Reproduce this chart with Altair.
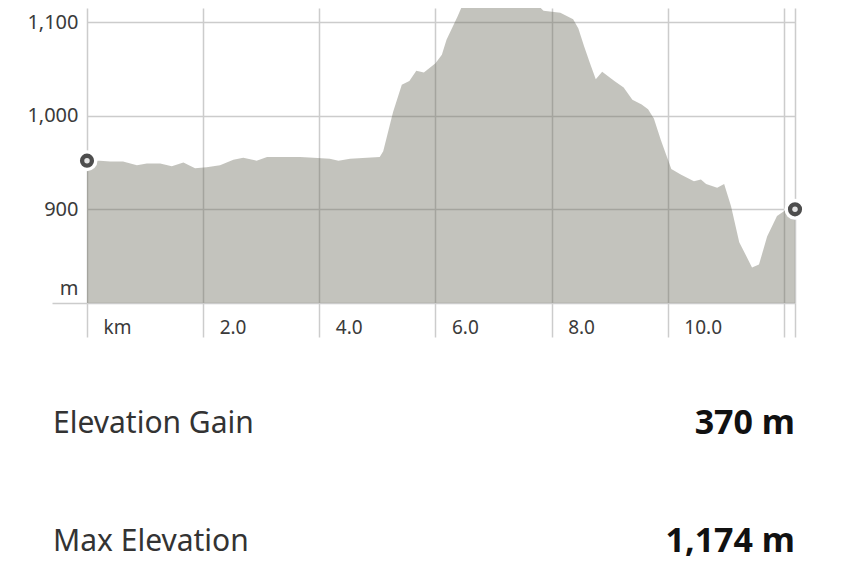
import altair as alt
import pandas as pd

# ---- data ----
km = [0.00, 0.22, 0.40, 0.62, 0.86, 1.03, 1.26, 1.46, 1.66, 1.86, 2.06, 2.29, 2.52, 2.69,
      2.92, 3.10, 3.38, 3.67, 3.90, 4.18, 4.33, 4.53, 4.82, 5.04, 5.10, 5.27, 5.42, 5.55,
      5.67, 5.80, 6.00, 6.11, 6.19, 6.38, 6.50, 6.65, 6.82, 7.00, 7.18, 7.40, 7.62, 7.86,
      8.15, 8.37, 8.46, 8.56, 8.66, 8.76, 8.87, 9.08, 9.24, 9.39, 9.55, 9.66, 9.76, 9.88,
      10.06, 10.23, 10.45, 10.57, 10.66, 10.85, 10.97, 11.09, 11.23, 11.45, 11.57, 11.71,
      11.88, 12.05, 12.19]
elevation = [952, 952, 951, 951, 947, 949, 949, 946, 950, 944, 945, 947, 953, 955,
             952, 956, 956, 956, 955, 954, 952, 954, 955, 956, 962, 1004, 1033, 1037,
             1048, 1046, 1056, 1065, 1081, 1106, 1123, 1140, 1160, 1174, 1166, 1146, 1127, 1112,
             1110, 1103, 1093, 1074, 1056, 1039, 1047, 1037, 1030, 1017, 1012, 1007, 997, 974,
             943, 937, 930, 932, 927, 923, 927, 903, 865, 838, 841, 871,
             893, 900, 900]

x_ticks = [0, 2, 4, 6, 8, 10, 12, 12.19]
y_ticks = [800, 900, 1000, 1100]

stat_labels = ["Elevation Gain", "Max Elevation"]
stat_values = ["370 m", "1,174 m"]

FONT = "Noto Sans"
profile = pd.DataFrame({"km": km, "elev": elevation})
ends = profile.iloc[[0, -1]]
stats = pd.DataFrame({"label": stat_labels, "value": stat_values})

xscale = alt.Scale(domain=[0, 12.19], nice=False, zero=False)
yscale = alt.Scale(domain=[800, 1115], nice=False, zero=False)

xaxis = alt.Axis(
    values=x_ticks, title=None, domain=False, grid=True, gridColor="#cccccc", gridWidth=1.5,
    ticks=True, tickSize=34, tickColor="#cccccc", tickWidth=1.5,
    labelExpr="datum.value == 0 ? 'km' : (datum.value >= 12 ? '' : format(datum.value, '.1f'))",
    labelAlign="left", labelBaseline="top", labelOffset=16, labelPadding=-19,
    labelFlush=False, labelOverlap=False, labelBound=False,
    labelFont=FONT, labelFontSize=19, labelColor="#3a3a3a",
)
yaxis = alt.Axis(
    values=y_ticks, title=None, domain=False, grid=True, gridColor="#cccccc", gridWidth=1.5,
    ticks=True, tickSize=35, tickColor="#cccccc", tickWidth=1.5,
    tickOpacity={"condition": {"test": "datum.value == 800", "value": 1}, "value": 0},
    labelExpr="datum.value == 800 ? 'm' : format(datum.value, ',')",
    labelOffset={"condition": {"test": "datum.value == 800", "value": -15}, "value": 0},
    labelPadding=-26, labelFont=FONT, labelFontSize=20, labelColor="#3a3a3a",
)

area = alt.Chart(profile).mark_area(color="#68685b", opacity=0.4, clip=True).encode(
    x=alt.X("km:Q", scale=xscale, axis=xaxis),
    y=alt.Y("elev:Q", scale=yscale, axis=yaxis),
)
enc = dict(x=alt.X("km:Q", scale=xscale), y=alt.Y("elev:Q", scale=yscale))
halo = alt.Chart(ends).mark_point(shape="circle", filled=True, fill="white", size=440, opacity=1).encode(**enc)
ring = alt.Chart(ends).mark_point(shape="circle", filled=True, fill="#4d4d4d", size=200, opacity=1).encode(**enc)
hole = alt.Chart(ends).mark_point(shape="circle", filled=True, fill="#e4e4e4", size=30, opacity=1).encode(**enc)

top = alt.layer(area, halo, ring, hole).properties(width=708, height=295)

ypt = alt.Y("label:N", scale=alt.Scale(domain=stat_labels, type="point", padding=0), axis=None)
left_txt = alt.Chart(stats).mark_text(
    align="left", baseline="middle", font=FONT, fontSize=30, color="#333333"
).encode(x=alt.value(-34), y=ypt, text="label:N")
right_txt = alt.Chart(stats).mark_text(
    align="right", baseline="middle", font=FONT, fontSize=34, fontWeight="bold", color="#111111"
).encode(x=alt.value(708), y=ypt, text="value:N")
bottom = alt.layer(left_txt, right_txt).properties(width=708, height=118)

chart = alt.vconcat(top, bottom, spacing=121, bounds="flush").properties(
    padding={"left": 18, "top": 0, "right": 10, "bottom": 10}
).configure_view(stroke=None)

chart.save("out.html", embed_options={"renderer": "svg", "actions": False})
